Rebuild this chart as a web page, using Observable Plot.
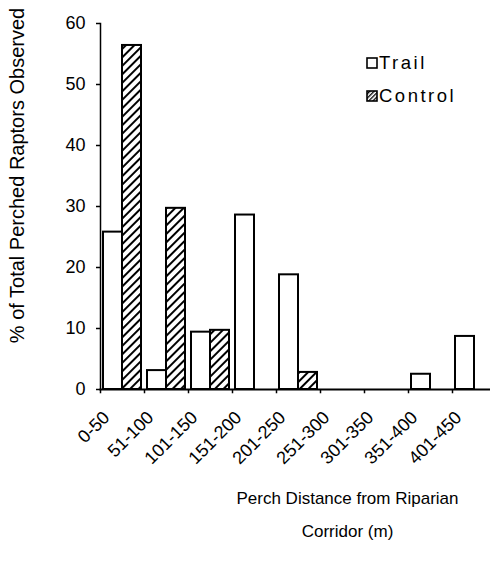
<!DOCTYPE html>
<html>
<head>
<meta charset="utf-8">
<script src="https://cdn.jsdelivr.net/npm/d3@7"></script>
<script src="https://cdn.jsdelivr.net/npm/@observablehq/plot@0.6"></script>
<style>
  body { margin: 0; background: white; }
  #wrap { position: relative; width: 490px; height: 569px; font-family: "Liberation Sans", Arial, sans-serif; }
  #legend { position: absolute; left: 366px; top: 46px; font-size: 18.5px; color: #000; letter-spacing: 2.5px; }
  #legend .item { display: flex; align-items: center; height: 33px; }
  #legend svg { margin-right: 1px; }
</style>
</head>
<body>
<div id="wrap">
  <div id="chart"></div>
  <div id="legend"></div>
</div>
<script>
const categories = ["0-50", "51-100", "101-150", "151-200", "201-250", "251-300", "301-350", "351-400", "401-450"];
const trailValues = [25.8, 3.1, 9.4, 28.6, 18.8, 0, 0, 2.5, 8.7];
const controlValues = [56.4, 29.7, 9.7, 0, 2.8, 0, 0, 0, 0];
const yTicks = [0, 10, 20, 30, 40, 50, 60];
const seriesNames = ["Trail", "Control"];

const W = 490, H = 569, ML = 100, MR = -6, MT = 23, MB = 180;
const bw = (W - ML - MR) / categories.length;

const trailData = categories.map((c, i) => ({cat: c, value: trailValues[i]})).filter(d => d.value > 0);
const controlData = categories.map((c, i) => ({cat: c, value: controlValues[i]})).filter(d => d.value > 0);

const chart = Plot.plot({
  width: W, height: H,
  marginLeft: ML, marginRight: MR, marginTop: MT, marginBottom: MB,
  style: {fontFamily: "'Liberation Sans', Arial, sans-serif", fontSize: "16px", color: "black", background: "white", overflow: "visible"},
  x: {domain: categories, padding: 0, label: null},
  y: {domain: [0, 60], label: null},
  marks: [
    Plot.barY(trailData, {x: "cat", y: "value", fill: "white", stroke: "black", strokeWidth: 2, insetLeft: 3, insetRight: bw / 2}),
    Plot.barY(controlData, {x: "cat", y: "value", fill: "url(#hatchCtl)", stroke: "black", strokeWidth: 2, insetLeft: bw / 2, insetRight: 3}),
    Plot.ruleX(categories, {x: d => d, y1: 0, y2: -0.7, dx: -bw / 2, stroke: "black", strokeWidth: 1.5}),
    Plot.ruleX(categories.slice(-1), {x: d => d, y1: 0, y2: -0.7, dx: bw / 2, stroke: "black", strokeWidth: 1.5}),
    Plot.frame({anchor: "left", stroke: "black", strokeWidth: 1.5}),
    Plot.frame({anchor: "bottom", stroke: "black", strokeWidth: 2}),
    Plot.axisY({ticks: yTicks, tickSize: 4, tickPadding: 11, fontSize: 18, label: null, strokeWidth: 1.5}),
    Plot.axisX({tickSize: 0, tickPadding: 3, tickRotate: -45, dx: -16, dy: 22, fontSize: 18, label: null}),
    Plot.text(["% of Total Perched Raptors Observed"], {frameAnchor: "left", rotate: -90, dx: -83, dy: -31, fontSize: 20, textAnchor: "middle", lineAnchor: "middle"}),
    Plot.text(["Perch Distance from Riparian\nCorridor (m)"], {frameAnchor: "bottom", dx: 49, dy: 120, fontSize: 17, lineHeight: 1.95, textAnchor: "middle", lineAnchor: "middle"})
  ]
});

d3.select(chart).insert("defs", ":first-child").html(
  `<pattern id="hatchCtl" patternUnits="userSpaceOnUse" width="6" height="6" patternTransform="rotate(45)">
     <rect width="6" height="6" fill="white"/>
     <line x1="1" y1="0" x2="1" y2="6" stroke="black" stroke-width="2"/>
   </pattern>`
);
document.getElementById("chart").appendChild(chart);

const legend = d3.select("#legend");
seriesNames.forEach((name, i) => {
  const item = legend.append("div").attr("class", "item");
  const s = item.append("svg").attr("width", 12).attr("height", 12);
  s.append("defs").html(`<pattern id="hatchLeg" patternUnits="userSpaceOnUse" width="3" height="3" patternTransform="rotate(45)"><rect width="3" height="3" fill="white"/><line x1="0.5" y1="0" x2="0.5" y2="3" stroke="black" stroke-width="1.6"/></pattern>`);
  s.append("rect").attr("x", 1).attr("y", 1).attr("width", 10).attr("height", 10)
    .attr("fill", i === 0 ? "white" : "url(#hatchLeg)").attr("stroke", "black").attr("stroke-width", 1.6);
  item.append("span").text(name);
});
</script>
</body>
</html>
